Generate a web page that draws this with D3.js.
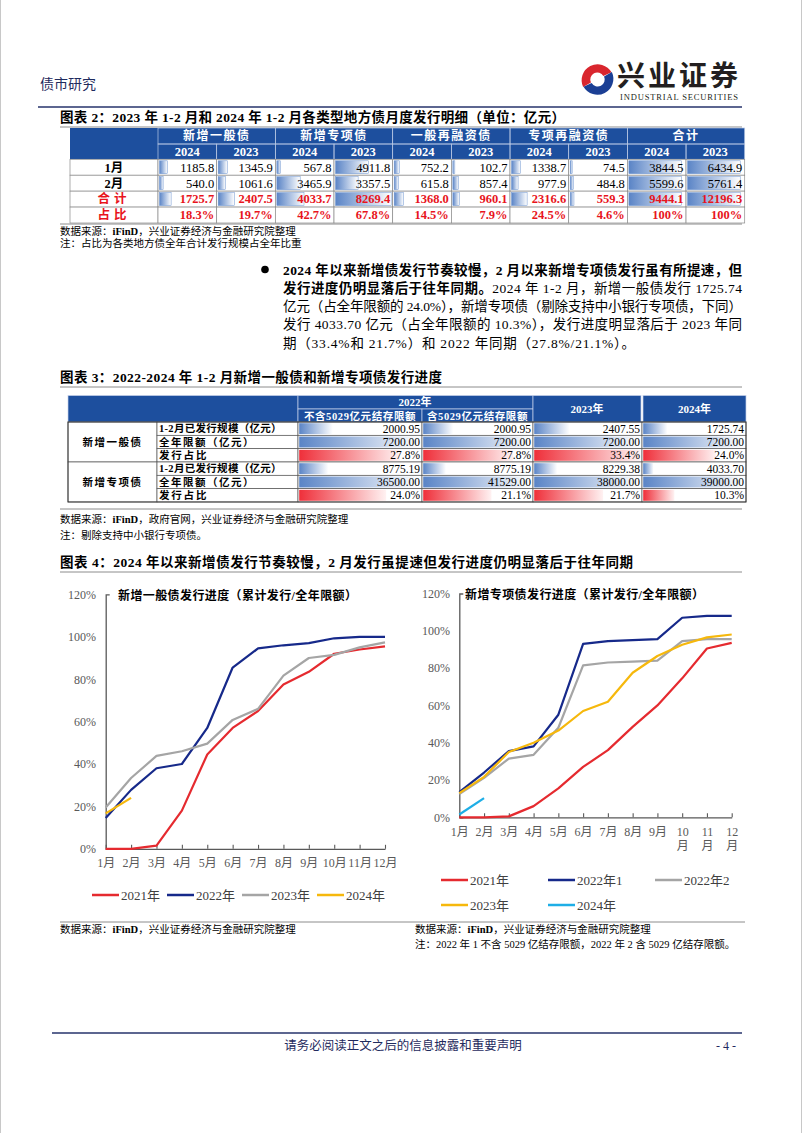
<!DOCTYPE html>
<html>
<head>
<meta charset="utf-8">
<script src="https://cdn.jsdelivr.net/npm/d3@7"></script>
<style>
body { margin: 0; background: #fff; }
svg { display: block; font-family: "Liberation Serif", "Noto Sans CJK SC", serif; }
</style>
</head>
<body>
<svg id="page" width="802" height="1133"></svg>
<script>
// table 2: monthly issuance by type (亿元)
var t2Groups = ['新增一般债', '新增专项债', '一般再融资债', '专项再融资债', '合计'];
var t2Years = ['2024', '2023'];
var t2RowNames = ['1月', '2月', '合计', '占比'];
var t2Jan = [1185.8, 1345.9, 567.8, 4911.8, 752.2, 102.7, 1338.7, 74.5, 3844.5, 6434.9];
var t2Feb = [540.0, 1061.6, 3465.9, 3357.5, 615.8, 857.4, 977.9, 484.8, 5599.6, 5761.4];
var t2Sum = [1725.7, 2407.5, 4033.7, 8269.4, 1368.0, 960.1, 2316.6, 559.3, 9444.1, 12196.3];
var t2Share = [18.3, 19.7, 42.7, 67.8, 14.5, 7.9, 24.5, 4.6, 100, 100];

// table 3: progress of new bonds, Jan-Feb
var t3Cols = ['不含5029亿元结存限额', '含5029亿元结存限额', '2023年', '2024年'];
var t3Cats = ['新增一般债', '新增专项债'];
var t3Items = ['1-2月已发行规模（亿元）', '全年限额（亿元）', '发行占比'];
var genIssued = [2000.95, 2000.95, 2407.55, 1725.74];
var genQuota = [7200, 7200, 7200, 7200];
var genShare = [27.8, 27.8, 33.4, 24.0];
var spIssued = [8775.19, 8775.19, 8229.38, 4033.70];
var spQuota = [36500, 41529, 38000, 39000];
var spShare = [24.0, 21.1, 21.7, 10.3];

// chart 4: cumulative issuance / annual quota (%)
var months = ['1月', '2月', '3月', '4月', '5月', '6月', '7月', '8月', '9月', '10月', '11月', '12月'];
var yTicks = [0, 20, 40, 60, 80, 100, 120];
var gen2021 = [0, 0, 1.5, 18, 44.5, 57, 65, 77.5, 83.5, 92, 94, 95.5];
var gen2022 = [14.5, 27.8, 38, 40, 57, 85.5, 94.5, 96, 97, 99.3, 100, 100];
var gen2023 = [19.5, 33.4, 43.8, 46, 49.6, 60.8, 66, 81.7, 90, 91.5, 95, 97.4];
var gen2024 = [16.7, 24.0];
var sp2021 = [0, 0, 0.5, 6, 15.5, 27, 36, 48.5, 60, 74.5, 90.5, 93.5];
var sp2022a = [13.5, 24.0, 35.5, 38, 55, 93, 94.5, 95, 95.5, 107, 108, 108];
var sp2022b = [12.5, 21.1, 31.5, 33.5, 48, 81.5, 83, 83.5, 84, 94.5, 95.5, 95.5];
var sp2023 = [13, 21.7, 35, 40, 46.5, 57, 62, 77.5, 86.5, 92.5, 96.5, 98];
var sp2024 = [1.5, 10.3];

var blue = '#1d4f9e';
var red = '#e8141c';

var svg = d3.select('#page');
var defs = svg.append('defs');
function grad(id, c0, c1) {
  var g = defs.append('linearGradient').attr('id', id).attr('x1', 0).attr('x2', 1).attr('y1', 0).attr('y2', 0);
  g.append('stop').attr('offset', 0).attr('stop-color', c0);
  g.append('stop').attr('offset', 1).attr('stop-color', c1);
}
grad('barBlue', '#5a84c6', '#ffffff');
grad('barRed', '#ef2f3a', '#fff2f2');

function put(g, x, y, s, o) {
  o = o || {};
  var t = g.append('text').attr('x', x).attr('y', y).attr('dy', '0.35em')
    .attr('font-size', o.size || 12)
    .attr('fill', o.fill || '#000')
    .attr('text-anchor', o.anchor || 'start')
    .text(s);
  if (o.bold) t.attr('font-weight', 'bold');
  if (o.ls) t.attr('letter-spacing', o.ls);
  if (o.len) t.attr('textLength', o.len).attr('lengthAdjust', 'spacing');
  return t;
}
function hline(x1, x2, y, c, w) {
  svg.append('line').attr('x1', x1).attr('x2', x2).attr('y1', y).attr('y2', y)
    .attr('stroke', c).attr('stroke-width', w);
}

// page edges
svg.append('line').attr('x1', 0.5).attr('x2', 0.5).attr('y1', 0).attr('y2', 1133).attr('stroke', '#c8c8c8');
svg.append('line').attr('x1', 801.5).attr('x2', 801.5).attr('y1', 0).attr('y2', 1133).attr('stroke', '#c8c8c8');

// ---------- header ----------
put(svg, 40, 84, '债市研究', {size: 14, fill: '#1f2b5e'});
hline(38, 742, 107, '#26336b', 1.6);
var lg = svg.append('g').attr('transform', 'translate(597,79)');
function ringPart(a0, a1, R, r) {
  var p = function (a, rad) { a = a * Math.PI / 180; return [rad * Math.cos(a), rad * Math.sin(a)]; };
  var o0 = p(a0, R), o1 = p(a1, R), i1 = p(a1, r), i0 = p(a0, r);
  return 'M' + o0 + 'A' + R + ',' + R + ' 0 0 1 ' + o1 + 'L' + i1 + 'A' + r + ',' + r + ' 0 0 0 ' + i0 + 'Z';
}
lg.append('path').attr('d', ringPart(150, 335, 16, 7)).attr('fill', '#d9262e');
lg.append('path').attr('d', ringPart(330, 515, 16, 7)).attr('fill', '#1b3f94').attr('transform', 'translate(1,1)');
put(svg, 617, 76, '兴业证券', {size: 28, bold: true, fill: '#231f20', len: 121});
put(svg, 620, 97, 'INDUSTRIAL SECURITIES', {size: 8.5, fill: '#231f20', len: 118});

function title(y, s, x2) {
  put(svg, 60, y, s, {size: 13.5, bold: true, len: x2 - 60});
  hline(60, 742, y + 10, '#8c8c8c', 1);
}

// ---------- table 2 ----------
title(117, '图表 2：2023 年 1-2 月和 2024 年 1-2 月各类型地方债月度发行明细（单位：亿元）', 565);
var t2Rows = [t2Jan, t2Feb, t2Sum, t2Share];
var t2x = d3.scaleBand().domain(d3.range(10)).range([158, 744.7]);
var t2gx = d3.scaleBand().domain(t2Groups).range([158, 744.7]);
var t2y = d3.scaleBand().domain(d3.range(4)).range([159.3, 223]);
var t2bar = d3.scaleLinear().domain([0, 8269.4]).range([0, t2x.bandwidth() - 3]).clamp(true);
// the 合计 columns carry their own data-bar scale (bars nearly full in the source)
var totMin = d3.min([t2Jan[8], t2Jan[9], t2Feb[8], t2Feb[9], t2Sum[8], t2Sum[9]]);
var t2barTot = d3.scaleLinear().domain([0, totMin]).range([0, t2x.bandwidth() - 6]).clamp(true);
var t2 = svg.append('g');
t2.append('rect').attr('x', 70).attr('y', 128).attr('width', 674.7).attr('height', 31.3).attr('fill', blue);
t2.selectAll('.g2h').data(t2Groups).enter().append('rect')
  .attr('x', function (d) { return t2gx(d); }).attr('y', 128)
  .attr('width', t2gx.bandwidth()).attr('height', 16)
  .attr('fill', 'none').attr('stroke', '#b9c8e4').attr('stroke-width', 0.7);
t2Groups.forEach(function (d) {
  put(t2, t2gx(d) + t2gx.bandwidth() / 2, 136, d, {size: 12, bold: true, fill: '#fff', anchor: 'middle', ls: 1.5});
});
d3.range(10).forEach(function (c) {
  t2.append('rect').attr('x', t2x(c)).attr('y', 144).attr('width', t2x.bandwidth()).attr('height', 15.3)
    .attr('fill', 'none').attr('stroke', '#b9c8e4').attr('stroke-width', 0.7);
  put(t2, t2x(c) + t2x.bandwidth() / 2, 151.6, t2Years[c % 2], {size: 12.5, bold: true, fill: '#fff', anchor: 'middle'});
});
t2Rows.forEach(function (row, r) {
  var y0 = t2y(r), h = t2y.bandwidth();
  var hot = r >= 2;
  t2.append('rect').attr('x', 70).attr('y', y0).attr('width', 88).attr('height', h)
    .attr('fill', '#fff').attr('stroke', '#8a8a8a').attr('stroke-width', 0.7);
  put(t2, 114, y0 + h / 2, t2RowNames[r], {size: 12.5, bold: true, fill: hot ? red : '#000', anchor: 'middle', ls: hot ? 4 : 0});
  row.forEach(function (v, c) {
    var x0 = t2x(c), w = t2x.bandwidth();
    t2.append('rect').attr('x', x0).attr('y', y0).attr('width', w).attr('height', h)
      .attr('fill', '#fff').attr('stroke', '#8a8a8a').attr('stroke-width', 0.7);
    if (r < 3) {
      var bw = c >= 8 ? t2barTot(v) : t2bar(v);
      t2.append('rect').attr('x', x0 + 1.5).attr('y', y0 + 1.5).attr('width', Math.max(bw, 2)).attr('height', h - 3)
        .attr('fill', 'url(#barBlue)').attr('stroke', '#6d94cf').attr('stroke-width', 0.5);
    }
    var s = r === 3 ? (v === 100 ? '100%' : v.toFixed(1) + '%') : v.toFixed(1);
    put(t2, x0 + w - 2.5, y0 + h / 2, s, {size: 12.5, bold: hot, fill: hot ? red : '#000', anchor: 'end'});
  });
});
hline(60, 742, 224, '#8c8c8c', 1);
var n1 = put(svg, 60, 231, '', {size: 10.5});
n1.append('tspan').text('数据来源：');
n1.append('tspan').attr('font-weight', 'bold').text('iFinD');
n1.append('tspan').text('，兴业证券经济与金融研究院整理');
put(svg, 60, 243, '注：占比为各类地方债全年合计发行规模占全年比重', {size: 10.5});

// ---------- paragraph ----------
svg.append('circle').attr('cx', 265).attr('cy', 269.5).attr('r', 3.8).attr('fill', '#000');
var pLines = [
  [['2024 年以来新增债发行节奏较慢，2 月以来新增专项债发行虽有所提速，但', true]],
  [['发行进度仍明显落后于往年同期。', true], ['2024 年 1-2 月，新增一般债发行 1725.74', false]],
  [['亿元（占全年限额的 24.0%），新增专项债（剔除支持中小银行专项债，下同）', false]],
  [['发行 4033.70 亿元（占全年限额的 10.3%），发行进度明显落后于 2023 年同', false]],
  [['期（33.4%和 21.7%）和 2022 年同期（27.8%/21.1%）。', false]]
];
pLines.forEach(function (parts, i) {
  var t = put(svg, 283, 270 + i * 18.2, '', {size: 13.5, len: i < 4 ? 459 : 352});
  parts.forEach(function (p) {
    var sp = t.append('tspan').text(p[0]);
    if (p[1]) sp.attr('font-weight', 'bold');
  });
});

// ---------- table 3 ----------
title(377, '图表 3：2022-2024 年 1-2 月新增一般债和新增专项债发行进度', 442);
var t3e = [68, 157, 298, 422, 533, 642, 746];
var t3 = svg.append('g');
var hTop = 395.5, hMid = 409, hBot = 422, rowH = 13.33;
function hcell(x0, x1, y0, y1) {
  t3.append('rect').attr('x', x0).attr('y', y0).attr('width', x1 - x0).attr('height', y1 - y0)
    .attr('fill', blue).attr('stroke', '#c6d2ea').attr('stroke-width', 0.7);
}
hcell(68, 298, hTop, hBot);
hcell(298, 533, hTop, hMid);
hcell(298, 422, hMid, hBot);
hcell(422, 533, hMid, hBot);
hcell(533, 641, hTop, hBot);
hcell(643, 746, hTop, hBot);
put(t3, 415, 402.5, '2022年', {size: 11, bold: true, fill: '#fff', anchor: 'middle'});
put(t3, 360, 416, t3Cols[0], {size: 10.5, bold: true, fill: '#fff', anchor: 'middle', ls: 0.6});
put(t3, 477.5, 416, t3Cols[1], {size: 10.5, bold: true, fill: '#fff', anchor: 'middle', ls: 0.6});
put(t3, 587, 409, t3Cols[2], {size: 11, bold: true, fill: '#fff', anchor: 'middle'});
put(t3, 694.5, 409, t3Cols[3], {size: 11, bold: true, fill: '#fff', anchor: 'middle'});

var shareMax = d3.max(genShare.concat(spShare));
var t3Data = [
  {cat: t3Cats[0], rows: [genIssued, genQuota, genShare], quota: genQuota},
  {cat: t3Cats[1], rows: [spIssued, spQuota, spShare], quota: spQuota}
];
t3Data.forEach(function (blk, b) {
  var by = hBot + b * 3 * rowH;
  t3.append('rect').attr('x', 68).attr('y', by).attr('width', 89).attr('height', 3 * rowH)
    .attr('fill', '#fff').attr('stroke', '#555').attr('stroke-width', 0.7);
  put(t3, 112.5, by + 1.5 * rowH, blk.cat, {size: 10.5, bold: true, anchor: 'middle', ls: 1.5});
  blk.rows.forEach(function (row, r) {
    var y0 = by + r * rowH;
    t3.append('rect').attr('x', 157).attr('y', y0).attr('width', 141).attr('height', rowH)
      .attr('fill', '#fff').attr('stroke', '#555').attr('stroke-width', 0.7);
    put(t3, 159, y0 + rowH / 2, t3Items[r], {size: 10.5, bold: true, ls: r === 1 ? 1.5 : (r === 2 ? 1.8 : 0.3)});
    row.forEach(function (v, c) {
      var x0 = t3e[c + 2], x1 = t3e[c + 3], w = x1 - x0;
      t3.append('rect').attr('x', x0).attr('y', y0).attr('width', w).attr('height', rowH)
        .attr('fill', '#fff').attr('stroke', '#555').attr('stroke-width', 0.7);
      var sc = r === 2
        ? d3.scaleLinear().domain([0, shareMax]).range([0, w - 3])
        : d3.scaleLinear().domain([0, blk.quota[c]]).range([0, w - 3]);
      t3.append('rect').attr('x', x0 + 1.2).attr('y', y0 + 1.2).attr('width', sc(v)).attr('height', rowH - 2.4)
        .attr('fill', r === 2 ? 'url(#barRed)' : 'url(#barBlue)');
      var s = r === 2 ? v.toFixed(1) + '%' : v.toFixed(2);
      put(t3, x1 - 2, y0 + rowH / 2, s, {size: 11.5, anchor: 'end'});
    });
  });
});
t3.append('rect').attr('x', 68).attr('y', hBot).attr('width', 678).attr('height', 6 * rowH)
  .attr('fill', 'none').attr('stroke', '#333').attr('stroke-width', 0.9);
hline(60, 742, 509, '#8c8c8c', 1);
var n3 = put(svg, 60, 519, '', {size: 10.5});
n3.append('tspan').text('数据来源：');
n3.append('tspan').attr('font-weight', 'bold').text('iFinD');
n3.append('tspan').text('，政府官网，兴业证券经济与金融研究院整理');
put(svg, 60, 535, '注：剔除支持中小银行专项债。', {size: 10.5});

// ---------- chart 4 ----------
title(562, '图表 4：2024 年以来新增债发行节奏较慢，2 月发行虽提速但发行进度仍明显落后于往年同期', 633);

var colors = {r: '#e52a2f', n: '#16298a', g: '#a5a5a5', y: '#f6b80c', c: '#1eaee6'};

function chart(o) {
  var g = svg.append('g');
  var x = d3.scalePoint().domain(months).range([o.x0, o.x1]);
  var y = d3.scaleLinear().domain([0, 120]).range([o.y0, o.y1]);
  var ya = g.append('g').attr('transform', 'translate(' + o.x0 + ',0)')
    .call(d3.axisLeft(y).tickValues(yTicks).tickSizeInner(0).tickSizeOuter(-4).tickPadding(o.x0 - o.lx)
      .tickFormat(function (d) { return d + '%'; }));
  var xa = g.append('g').attr('transform', 'translate(0,' + o.y0 + ')')
    .call(d3.axisBottom(x).tickSizeInner(-4).tickSizeOuter(0).tickPadding(10));
  [ya, xa].forEach(function (a) {
    a.select('.domain').attr('stroke', '#595959').attr('stroke-width', 1.3);
    a.selectAll('.tick line').attr('stroke', '#595959').attr('stroke-width', 1.1);
    a.selectAll('text').attr('font-size', 12).attr('fill', '#595959')
      .attr('font-family', '"Liberation Serif", "Noto Sans CJK SC", serif');
  });
  if (o.wrap) {
    xa.selectAll('.tick text').each(function (d) {
      if (d.length > 2) {
        var t = d3.select(this).text(null);
        t.append('tspan').attr('x', 0).text(d.slice(0, -1));
        t.append('tspan').attr('x', 0).attr('dy', '1.2em').text('月');
      }
    });
  }
  var line = d3.line().x(function (d, i) { return x(months[i]); }).y(function (d) { return y(d); });
  o.series.forEach(function (s) {
    g.append('path').datum(s.v).attr('d', line).attr('fill', 'none')
      .attr('stroke', s.c).attr('stroke-width', 2.2).attr('stroke-linejoin', 'round');
  });
  put(g, o.tx, o.y1 + 1, o.title, {size: 12, bold: true, ls: 0.4});
  o.series.forEach(function (s, i) {
    var lx = o.leg[i][0], ly = o.leg[i][1];
    g.append('line').attr('x1', lx).attr('x2', lx + 27).attr('y1', ly).attr('y2', ly)
      .attr('stroke', s.c).attr('stroke-width', 2.5);
    put(g, lx + 29, ly, s.name, {size: 13, fill: '#404040'});
  });
}

chart({
  x0: 105.7, x1: 385, y0: 848.8, y1: 594.4, lx: 96, tx: 118,
  title: '新增一般债发行进度（累计发行/全年限额）',
  series: [
    {name: '2021年', v: gen2021, c: colors.r},
    {name: '2022年', v: gen2022, c: colors.n},
    {name: '2023年', v: gen2023, c: colors.g},
    {name: '2024年', v: gen2024, c: colors.y}
  ],
  leg: [[92, 895], [167, 895], [242, 895], [317, 895]]
});
chart({
  x0: 459.3, x1: 731.7, y0: 817.3, y1: 593.5, lx: 450, tx: 465, wrap: true,
  title: '新增专项债发行进度（累计发行/全年限额）',
  series: [
    {name: '2021年', v: sp2021, c: colors.r},
    {name: '2022年1', v: sp2022a, c: colors.n},
    {name: '2022年2', v: sp2022b, c: colors.g},
    {name: '2023年', v: sp2023, c: colors.y},
    {name: '2024年', v: sp2024, c: colors.c}
  ],
  leg: [[441, 880], [548, 880], [655, 880], [441, 905], [548, 905]]
});

hline(60, 745, 922, '#8c8c8c', 1);
[60, 415].forEach(function (x) {
  var n = put(svg, x, 929, '', {size: 10.5});
  n.append('tspan').text('数据来源：');
  n.append('tspan').attr('font-weight', 'bold').text('iFinD');
  n.append('tspan').text('，兴业证券经济与金融研究院整理');
});
put(svg, 415, 944, '注：2022 年 1 不含 5029 亿结存限额，2022 年 2 含 5029 亿结存限额。', {size: 10.5});

// ---------- footer ----------
hline(52, 742, 1033, '#26336b', 1.6);
put(svg, 403, 1046, '请务必阅读正文之后的信息披露和重要声明', {size: 12.5, fill: '#1f2b5e', anchor: 'middle'});
put(svg, 726, 1046, '- 4 -', {size: 12, fill: '#1f2b5e', anchor: 'middle'});
</script>
</body>
</html>
